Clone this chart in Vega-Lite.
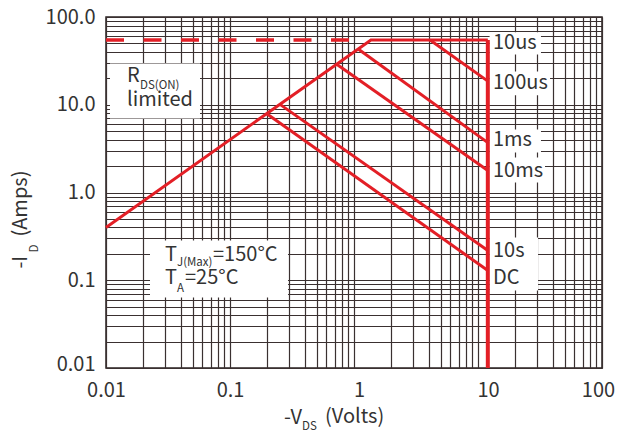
{
  "$schema": "https://vega.github.io/schema/vega-lite/v6.json",
  "width": 496,
  "height": 351,
  "autosize": {"type": "none"},
  "padding": {"left": 106, "top": 17, "right": 28, "bottom": 66},
  "background": "white",
  "config": {
    "view": {"stroke": "#2a2222", "strokeWidth": 1.5},
    "font": "Noto Sans CJK JP",
    "text": {"font": "Noto Sans CJK JP"}
  },
  "datasets": {
    "lines": [
      {"s": "env", "o": 1, "v": 0.01, "i": 0.4},
      {"s": "env", "o": 2, "v": 1.37, "i": 54.8},
      {"s": "env", "o": 3, "v": 12, "i": 54.8},
      {"s": "100us", "o": 1, "v": 4.1, "i": 54.8},
      {"s": "100us", "o": 2, "v": 12, "i": 18.6},
      {"s": "1ms", "o": 1, "v": 1.08, "i": 43.2},
      {"s": "1ms", "o": 2, "v": 12, "i": 3.7},
      {"s": "10ms", "o": 1, "v": 0.725, "i": 29},
      {"s": "10ms", "o": 2, "v": 12, "i": 1.78},
      {"s": "10s", "o": 1, "v": 0.253, "i": 10.1},
      {"s": "10s", "o": 2, "v": 12, "i": 0.218},
      {"s": "DC", "o": 1, "v": 0.198, "i": 7.9},
      {"s": "DC", "o": 2, "v": 12, "i": 0.129}
    ],
    "vmax": [
      {"s": "vmax", "o": 1, "v": 12, "i": 54.8},
      {"s": "vmax", "o": 2, "v": 12, "i": 0.01}
    ],
    "dashed": [
      {"s": "idm", "o": 1, "v": 0.01, "i": 54.8},
      {"s": "idm", "o": 2, "v": 0.93, "i": 54.8}
    ],
    "boxes": [
      {"b": "rds", "v": 0.01077, "v2": 0.0573, "i": 29.6, "i2": 6.99},
      {"b": "temp", "v": 0.02264, "v2": 0.2935, "i": 0.2835, "i2": 0.0634},
      {"b": "10us", "v": 12.4, "v2": 32.2, "i": 66.9, "i2": 37.5},
      {"b": "100us", "v": 12.4, "v2": 38.1, "i": 24.0, "i2": 12.79},
      {"b": "1ms", "v": 12.4, "v2": 32.2, "i": 5.234, "i2": 2.86},
      {"b": "10ms", "v": 12.4, "v2": 34.7, "i": 2.507, "i2": 1.3},
      {"b": "10sdc", "v": 12.4, "v2": 30.5, "i": 0.3066, "i2": 0.0762}
    ],
    "texts": [
      {"t": "10us", "v": 13.21, "i": 50.1},
      {"t": "100us", "v": 13.21, "i": 17.52},
      {"t": "1ms", "v": 13.21, "i": 3.921},
      {"t": "10ms", "v": 13.21, "i": 1.736},
      {"t": "10s", "v": 13.21, "i": 0.2179},
      {"t": "DC", "v": 13.21, "i": 0.1052},
      {"t": "R", "v": 0.01477, "i": 21.06},
      {"t": "limited", "v": 0.01477, "i": 11.21},
      {"t": "T", "v": 0.02991, "i": 0.1962},
      {"t": "=150°C", "v": 0.0729, "i": 0.1962},
      {"t": "T", "v": 0.02991, "i": 0.1058},
      {"t": "=25°C", "v": 0.04336, "i": 0.1058},
      {"t": "-V", "v": 0.2726, "i": 0.00271},
      {"t": "(Volts)", "v": 0.5835, "i": 0.002782}
    ],
    "subs": [
      {"t": "DS(ON)", "v": 0.0188, "i": 16.2},
      {"t": "J(Max)", "v": 0.03737, "i": 0.1569},
      {"t": "A", "v": 0.03737, "i": 0.0797},
      {"t": "DS", "v": 0.3807, "i": 0.002139}
    ],
    "ytitle": [
      {"t": "-I", "v": 0.002063, "i": 0.1358},
      {"t": "(Amps)", "v": 0.002063, "i": 0.3148}
    ],
    "ytitlesub": [
      {"t": "D", "v": 0.002651, "i": 0.2068}
    ]
  },
  "encoding": {
    "x": {
      "field": "v",
      "type": "quantitative",
      "scale": {"type": "log", "domain": [0.01, 100], "nice": false},
      "axis": {
        "title": null,
        "values": [0.01,0.02,0.03,0.04,0.05,0.06,0.07,0.08,0.09,0.1,0.2,0.3,0.4,0.5,0.6,0.7,0.8,0.9,1,2,3,4,5,6,7,8,9,10,20,30,40,50,60,70,80,90,100],
        "labelExpr": "datum.value==0.01?'0.01':datum.value==0.1?'0.1':datum.value==1?'1':datum.value==10?'10':datum.value==100?'100':''",
        "grid": true,
        "gridColor": "#3a3030",
        "gridWidth": 1.2,
        "ticks": false,
        "tickSize": 0,
        "domain": false,
        "labelPadding": 12,
        "labelFontSize": 20,
        "labelFont": "Noto Sans CJK JP",
        "labelColor": "#333333",
        "labelOverlap": false,
        "labelFlush": false,
        "labelBound": false,
        "labelOffset": {"condition": [{"test": "datum.value==1", "value": 5}, {"test": "datum.value==10", "value": 10}, {"test": "datum.value==100", "value": -4}], "value": 0}
      }
    },
    "y": {
      "field": "i",
      "type": "quantitative",
      "scale": {"type": "log", "domain": [0.01, 100], "nice": false},
      "axis": {
        "title": null,
        "values": [0.01,0.02,0.03,0.04,0.05,0.06,0.07,0.08,0.09,0.1,0.2,0.3,0.4,0.5,0.6,0.7,0.8,0.9,1,2,3,4,5,6,7,8,9,10,20,30,40,50,60,70,80,90,100],
        "labelExpr": "datum.value==0.01?'0.01':datum.value==0.1?'0.1':datum.value==1?'1.0':datum.value==10?'10.0':datum.value==100?'100.0':''",
        "grid": true,
        "gridColor": "#3a3030",
        "gridWidth": 1.2,
        "ticks": false,
        "tickSize": 0,
        "domain": false,
        "labelPadding": 11,
        "labelFontSize": 20,
        "labelFont": "Noto Sans CJK JP",
        "labelColor": "#333333",
        "labelOverlap": false,
        "labelFlush": false,
        "labelBound": false,
        "labelOffset": {"condition": {"test": "datum.value==0.01", "value": -4}, "value": 0}
      }
    }
  },
  "layer": [
    {
      "data": {"name": "boxes"},
      "mark": {"type": "rect", "fill": "white", "stroke": null},
      "encoding": {"x2": {"field": "v2"}, "y2": {"field": "i2"}}
    },
    {
      "data": {"name": "dashed"},
      "mark": {"type": "line", "color": "#e31f26", "strokeWidth": 3.5, "strokeDash": [18, 19.5]},
      "encoding": {"detail": {"field": "s"}, "order": {"field": "o"}}
    },
    {
      "data": {"name": "lines"},
      "mark": {"type": "line", "color": "#e31f26", "strokeWidth": 3, "strokeJoin": "miter"},
      "encoding": {"detail": {"field": "s"}, "order": {"field": "o"}}
    },
    {
      "data": {"name": "vmax"},
      "mark": {"type": "line", "color": "#e31f26", "strokeWidth": 4},
      "encoding": {"detail": {"field": "s"}, "order": {"field": "o"}}
    },
    {
      "data": {"name": "texts"},
      "mark": {"type": "text", "align": "left", "baseline": "middle", "fontSize": 20, "color": "#333333", "font": "Noto Sans CJK JP"},
      "encoding": {"text": {"field": "t"}}
    },
    {
      "data": {"name": "subs"},
      "mark": {"type": "text", "align": "left", "baseline": "middle", "fontSize": 11.5, "color": "#333333", "font": "Noto Sans CJK JP"},
      "encoding": {"text": {"field": "t"}}
    },
    {
      "data": {"name": "ytitle"},
      "mark": {"type": "text", "align": "left", "baseline": "middle", "angle": 270, "fontSize": 20, "color": "#333333", "font": "Noto Sans CJK JP"},
      "encoding": {"text": {"field": "t"}}
    },
    {
      "data": {"name": "ytitlesub"},
      "mark": {"type": "text", "align": "left", "baseline": "middle", "angle": 270, "fontSize": 11.5, "color": "#333333", "font": "Noto Sans CJK JP"},
      "encoding": {"text": {"field": "t"}}
    }
  ]
}
